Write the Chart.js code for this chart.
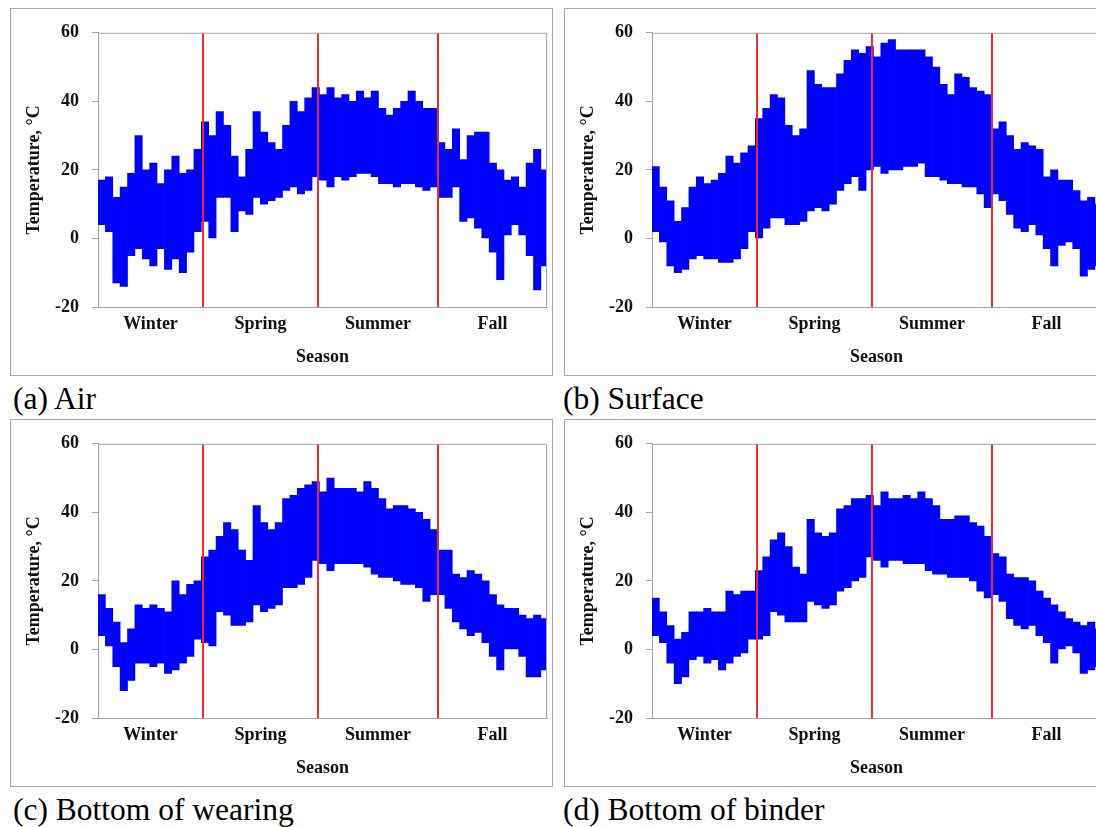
<!DOCTYPE html>
<html>
<head>
<meta charset="utf-8">
<script src="https://cdn.jsdelivr.net/npm/chart.js@4.4.0/dist/chart.umd.min.js"></script>
<style>
  html, body { margin: 0; padding: 0; background: #fff; }
  body { width: 1096px; height: 827px; overflow: hidden; position: relative; }
  .painel { position: absolute; width: 543px; height: 368px; border: 1px solid #a6a6a6; box-sizing: border-box; background: #fff; }
  .painel canvas { position: absolute; left: 0; top: 0; }
  .legenda { position: absolute; font-family: "Liberation Serif", "Times New Roman", serif; font-size: 31.5px; line-height: 30px; color: #000; white-space: nowrap; }
</style>
</head>
<body>
<div class="painel" style="left:10px; top:8px;"><canvas id="graficoAr" width="541" height="366"></canvas></div>
<div class="painel" style="left:564px; top:8px;"><canvas id="graficoSuperficie" width="541" height="366"></canvas></div>
<div class="painel" style="left:10px; top:419px;"><canvas id="graficoDesgaste" width="541" height="366"></canvas></div>
<div class="painel" style="left:564px; top:419px;"><canvas id="graficoLigacao" width="541" height="366"></canvas></div>
<div class="legenda" style="left:13px; top:384px;">(a) Air</div>
<div class="legenda" style="left:563px; top:384px;">(b) Surface</div>
<div class="legenda" style="left:13px; top:795px;">(c) Bottom of wearing</div>
<div class="legenda" style="left:563px; top:795px;">(d) Bottom of binder</div>

<script>
// dia do ano (centro de cada bloco de 6 dias)
const dias = [3, 9, 15, 21, 27, 33, 39, 45, 51, 57, 63, 69, 75, 81, 87, 93, 99, 105, 111, 117, 123, 129, 135, 141, 147, 153, 159, 165, 171, 177, 183, 189, 195, 201, 207, 213, 219, 225, 231, 237, 243, 249, 255, 261, 267, 273, 279, 285, 291, 297, 303, 309, 315, 321, 327, 333, 339, 345, 351, 357, 363];

const estacoes = ['Winter', 'Spring', 'Summer', 'Fall'];
const centrosEstacoes = [42.7, 132.1, 227.6, 320.7];
const limitesEstacoes = [85.4, 178.8, 276.4];

// faixa de temperatura (min / max) de cada bloco, em °C
const arMax = [17, 18, 12, 15, 19, 30, 20, 22, 16, 20, 24, 19, 20, 26, 34, 30, 37, 33, 24, 18, 26, 37, 31, 28, 26, 33, 40, 37, 41, 44, 42, 44, 41, 42, 40, 43, 41, 43, 38, 36, 38, 40, 43, 40, 38, 38, 28, 26, 32, 23, 30, 31, 31, 22, 20, 17, 18, 15, 22, 26, 20];
const arMin = [4, 2, -13, -14, -5, -3, -6, -8, -3, -9, -6, -10, -4, 2, 5, 0, 12, 12, 2, 8, 7, 12, 10, 11, 12, 14, 15, 13, 14, 18, 17, 15, 18, 17, 18, 19, 19, 18, 16, 16, 15, 16, 16, 15, 14, 15, 12, 12, 15, 5, 6, 3, 0, -4, -12, 1, 4, 1, -5, -15, -8];

const superficieMax = [21, 15, 11, 5, 9, 15, 18, 16, 17, 19, 24, 22, 25, 27, 35, 38, 42, 41, 33, 30, 32, 49, 45, 44, 44, 48, 52, 55, 54, 56, 53, 57, 58, 55, 55, 55, 55, 53, 50, 45, 42, 48, 47, 44, 43, 42, 32, 34, 30, 26, 28, 27, 26, 18, 20, 17, 17, 14, 11, 12, 10];
const superficieMin = [2, -1, -8, -10, -9, -6, -5, -6, -6, -7, -7, -6, -3, 2, 0, 3, 6, 6, 4, 4, 5, 8, 9, 8, 10, 14, 16, 18, 14, 20, 21, 19, 20, 20, 21, 21, 22, 18, 18, 17, 16, 16, 15, 15, 13, 9, 13, 11, 7, 3, 2, 4, 1, -3, -8, -2, -1, -3, -11, -9, -8];

const desgasteMax = [16, 12, 8, 2, 6, 13, 12, 13, 12, 11, 20, 16, 19, 20, 27, 29, 33, 37, 35, 29, 26, 42, 37, 35, 37, 44, 45, 47, 48, 49, 46, 50, 47, 47, 47, 46, 49, 47, 44, 41, 42, 42, 41, 40, 38, 35, 29, 29, 22, 21, 23, 22, 20, 16, 13, 12, 12, 10, 9, 10, 9];
const desgasteMin = [4, 1, -5, -12, -9, -4, -4, -5, -4, -7, -6, -4, -2, 3, 2, 1, 11, 10, 7, 7, 8, 13, 11, 12, 13, 18, 18, 19, 21, 26, 25, 23, 25, 25, 25, 25, 24, 22, 21, 21, 20, 19, 19, 18, 14, 16, 16, 12, 8, 6, 4, 5, 2, -2, -6, 0, 0, -2, -8, -8, -6];

const ligacaoMax = [15, 11, 7, 3, 5, 11, 11, 12, 11, 11, 17, 16, 17, 17, 23, 27, 32, 34, 30, 24, 22, 38, 34, 33, 34, 41, 42, 44, 44, 45, 42, 46, 44, 44, 45, 44, 46, 44, 42, 38, 38, 39, 39, 37, 36, 33, 28, 27, 22, 21, 21, 20, 17, 15, 13, 11, 9, 8, 7, 8, 6];
const ligacaoMin = [4, 2, -4, -10, -8, -3, -2, -4, -3, -6, -4, -2, -1, 3, 3, 4, 11, 10, 8, 8, 8, 14, 13, 12, 13, 17, 18, 20, 21, 27, 26, 24, 26, 26, 25, 25, 25, 23, 22, 22, 21, 21, 21, 20, 17, 15, 16, 14, 9, 7, 6, 7, 4, 2, -4, 0, 1, -1, -7, -6, -5];

const fonteEixo = { family: '"Liberation Serif", "Times New Roman", serif', size: 18, weight: 'bold' };

// moldura de cima e da direita da area do grafico
const molduraPlugin = {
  id: 'moldura',
  afterDatasetsDraw(chart) {
    const { ctx, chartArea } = chart;
    ctx.save();
    ctx.strokeStyle = '#a6a6a6';
    ctx.lineWidth = 1;
    ctx.beginPath();
    ctx.moveTo(chartArea.left, chartArea.top + 0.5);
    ctx.lineTo(chartArea.right - 0.5, chartArea.top + 0.5);
    ctx.lineTo(chartArea.right - 0.5, chartArea.bottom);
    ctx.stroke();
    ctx.restore();
  }
};

function criarPainel(idCanvas, minimos, maximos) {
  const faixas = dias.map((d, i) => ({ x: d, y: [minimos[i], maximos[i]] }));
  const linhasVermelhas = limitesEstacoes.map(dia => ({
    type: 'line',
    data: [{ x: dia, y: -20 }, { x: dia, y: 60 }],
    borderColor: '#ee2a2a',
    borderWidth: 2,
    pointRadius: 0,
    order: 1
  }));

  const ctx = document.getElementById(idCanvas).getContext('2d');
  new Chart(ctx, {
    type: 'bar',
    data: {
      datasets: [
        {
          data: faixas,
          backgroundColor: '#0000ff',
          barPercentage: 1,
          categoryPercentage: 1,
          order: 2
        },
        ...linhasVermelhas
      ]
    },
    plugins: [molduraPlugin],
    options: {
      responsive: false,
      animation: false,
      layout: { padding: { top: 23, right: 5, left: 0, bottom: 0 } },
      plugins: { legend: { display: false }, tooltip: { enabled: false } },
      scales: {
        x: {
          type: 'linear',
          min: 0,
          max: 365,
          offset: false,
          grid: { display: false, drawTicks: false },
          border: { display: true, color: '#a6a6a6', width: 1 },
          afterBuildTicks: s => { s.ticks = centrosEstacoes.map(v => ({ value: v })); },
          afterFit: s => { s.height = 68; },
          ticks: {
            autoSkip: false,
            maxRotation: 0,
            padding: 7,
            color: '#111',
            font: fonteEixo,
            callback: (valor, i) => estacoes[i]
          },
          title: { display: true, text: 'Season', color: '#111', font: fonteEixo, padding: { top: 0, bottom: 7 } }
        },
        y: {
          min: -20,
          max: 60,
          grid: { drawOnChartArea: false, drawTicks: true, tickLength: 6, color: '#a6a6a6' },
          border: { display: true, color: '#a6a6a6', width: 1 },
          afterFit: s => { s.width = 87; },
          ticks: { stepSize: 20, padding: 13, color: '#111', font: fonteEixo },
          title: { display: true, text: 'Temperature, °C', color: '#111', font: fonteEixo, padding: { top: 13, bottom: 0 } }
        }
      }
    }
  });
}

criarPainel('graficoAr', arMin, arMax);
criarPainel('graficoSuperficie', superficieMin, superficieMax);
criarPainel('graficoDesgaste', desgasteMin, desgasteMax);
criarPainel('graficoLigacao', ligacaoMin, ligacaoMax);
</script>
</body>
</html>
